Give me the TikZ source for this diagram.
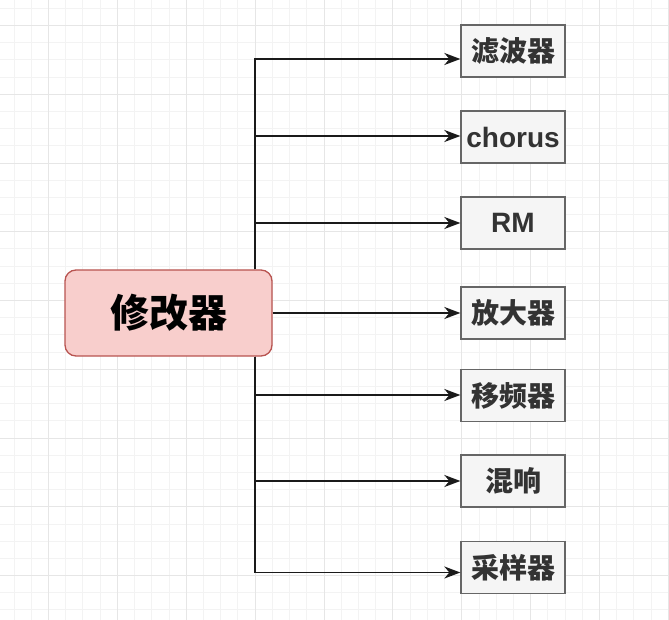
\documentclass[tikz,border=0pt]{standalone}
\usepackage{fontspec}
\setmainfont{Liberation Sans}
\newfontfamily\cjk{Noto Sans CJK SC}
\usetikzlibrary{arrows.meta}
\definecolor{gminor}{HTML}{F3F3F3}
\definecolor{gmajor}{HTML}{E6E6E6}
\definecolor{boxfill}{HTML}{F5F5F5}
\definecolor{boxline}{HTML}{666666}
\definecolor{boxtext}{HTML}{333333}
\definecolor{mainfill}{HTML}{F8CECC}
\definecolor{mainline}{HTML}{B85450}
\definecolor{connline}{HTML}{1A1A1A}
\tikzset{
  minorline/.style={draw=gminor, line width=1pt},
  majorline/.style={draw=gmajor, line width=1pt},
  leaf/.style={draw=boxline, fill=boxfill, line width=1.3pt, minimum width=104pt, minimum height=52pt, inner sep=0pt, text=boxtext, font=\fontsize{28}{32}\selectfont\bfseries},
  mainbox/.style={draw=mainline, fill=mainfill, line width=1.3pt, rounded corners=11pt, minimum width=207pt, minimum height=86pt, inner sep=0pt, text=black, font=\fontsize{39}{44}\selectfont\bfseries},
  conn/.style={draw=connline, line width=1.9pt, -{Stealth[length=16pt, width=12pt, inset=5pt]}}
}
\begin{document}
\begin{tikzpicture}[x=1pt, y=-1pt]
\useasboundingbox (0,0) rectangle (669,620);
\fill[white] (0,0) rectangle (669,620);
\begin{scope}
\clip (0,0) rectangle (669,620);
\foreach \i in {0,...,38} {
  \pgfmathsetmacro\gx{round(13.56+17.22*\i)+0.5}
  \draw[minorline] (\gx,0) -- (\gx,620);
}
\foreach \i in {0,...,36} {
  \pgfmathsetmacro\gy{round(7.8+17.19*\i)+0.5}
  \draw[minorline] (0,\gy) -- (669,\gy);
}
\foreach \i in {0,...,9} {
  \pgfmathsetmacro\gx{round(48+68.88*\i)+0.5}
  \draw[majorline] (\gx,0) -- (\gx,620);
}
\foreach \i in {0,...,9} {
  \pgfmathsetmacro\gy{round(25+68.76*\i)+0.5}
  \draw[majorline] (0,\gy) -- (669,\gy);
}
\end{scope}

\node[mainbox] (main) at (168.5,313) {\cjk\bfseries 修改器};

\node[leaf] (f1) at (513,51) {\cjk\bfseries 滤波器};
\node[leaf] (f2) at (513,137) {chorus};
\node[leaf] (f3) at (513,223) {RM};
\node[leaf] (f4) at (513,313) {\cjk\bfseries 放大器};
\node[leaf] (f5) at (513,395.5) {\cjk\bfseries 移频器};
\node[leaf] (f6) at (513,481) {\cjk\bfseries 混响};
\node[leaf] (f7) at (513,567.5) {\cjk\bfseries 采样器};

\coordinate (tx) at (255,313);

\draw[conn] (main.north -| tx) |- ([yshift=-8pt]f1.west);
\draw[conn] (main.north -| tx) |- ([yshift=1pt]f2.west);
\draw[conn] (main.north -| tx) |- (f3.west);
\draw[conn] (main.east) -- (f4.west);
\draw[conn] (main.south -| tx) |- ([yshift=0.5pt]f5.west);
\draw[conn] (main.south -| tx) |- (f6.west);
\draw[conn] (main.south -| tx) |- ([yshift=-5pt]f7.west);
\end{tikzpicture}
\end{document}
